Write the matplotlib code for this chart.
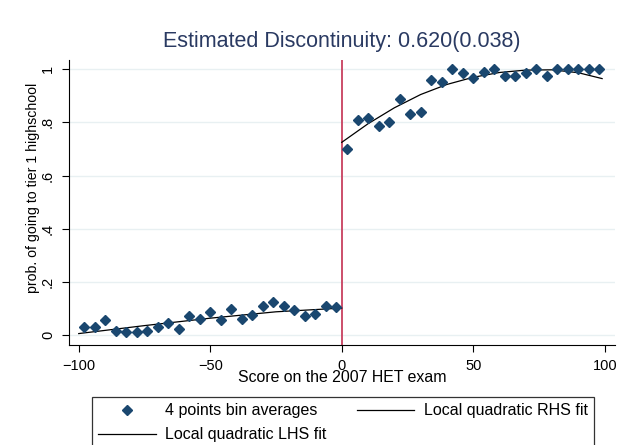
import numpy as np
import matplotlib
matplotlib.use('Agg')
import matplotlib.pyplot as plt

plt.rcParams['font.family'] = ['Liberation Sans', 'DejaVu Sans']

# bin averages (4 points per bin)
x_left = [-98, -94, -90, -86, -82, -78, -74, -70, -66, -62, -58, -54, -50,
          -46, -42, -38, -34, -30, -26, -22, -18, -14, -10, -6, -2]
y_left = [0.031, 0.031, 0.056, 0.016, 0.010, 0.010, 0.015, 0.031, 0.046, 0.021,
          0.071, 0.061, 0.085, 0.056, 0.097, 0.061, 0.075, 0.110, 0.125, 0.107,
          0.095, 0.071, 0.080, 0.110, 0.105]
x_right = [2, 6, 10, 14, 18, 22, 26, 30, 34, 38, 42, 46, 50,
           54, 58, 62, 66, 70, 74, 78, 82, 86, 90, 94, 98]
y_right = [0.700, 0.808, 0.818, 0.788, 0.803, 0.887, 0.832, 0.838, 0.961, 0.952,
           1.001, 0.987, 0.966, 0.991, 1.000, 0.976, 0.976, 0.986, 1.000, 0.976,
           1.000, 1.000, 1.000, 1.000, 1.000]

# local quadratic fits
fit_lx = [-100, -75, -50, -25, 0]
fit_ly = [0.005, 0.035, 0.063, 0.087, 0.101]
fit_rx = [0, 10, 20, 30, 40, 50, 60, 70, 80, 90, 99]
fit_ry = [0.725, 0.795, 0.855, 0.905, 0.943, 0.970, 0.988, 0.997, 0.998, 0.987, 0.965]

yticks = [0, 0.2, 0.4, 0.6, 0.8, 1]
ytick_labels = ['0', '.2', '.4', '.6', '.8', '1']
xticks = [-100, -50, 0, 50, 100]

navy = '#1a476f'

fig = plt.figure(figsize=(6.22, 4.45), dpi=100)
ax = fig.add_axes([69/622, 1 - 345/445, 546/622, 285/445])

for y in yticks:
    ax.axhline(y, color='#e8f0f2', lw=1.0, zorder=0)
ax.axvline(0, color='#c8405f', lw=1.3, zorder=1)

pts, = ax.plot(x_left + x_right, y_left + y_right, 'D', color=navy,
               markersize=5.5, ls='none', zorder=3)
lhs, = ax.plot(fit_lx, fit_ly, color='black', lw=0.9, zorder=2)
rhs, = ax.plot(fit_rx, fit_ry, color='black', lw=0.9, zorder=2)

ax.set_xlim(-103.7, 103.9)
ax.set_ylim(-0.038, 1.035)
ax.set_xticks(xticks)
ax.set_yticks(yticks)
ax.set_yticklabels(ytick_labels, rotation=90, va='center')
ax.tick_params(labelsize=10.5, length=5, direction='out', pad=5)
ax.spines['top'].set_visible(False)
ax.spines['right'].set_visible(False)

fig.text(342/622, 1 - 42/445, 'Estimated Discontinuity: 0.620(0.038)',
         fontsize=15.5, color='#2a3a62', ha='center', va='center')
ax.set_xlabel('Score on the 2007 HET exam', fontsize=11.4, labelpad=-2)
fig.text(33/622, 1 - 187.5/445, 'prob. of going to tier 1 highschool',
         fontsize=10.2, rotation=90, ha='center', va='center')

leg = fig.legend([pts, lhs, rhs],
                 ['4 points bin averages', 'Local quadratic LHS fit',
                  'Local quadratic RHS fit'],
                 loc='upper left', ncol=2, mode='expand', borderaxespad=0,
                 bbox_to_anchor=(92/622, 0, 502/622, 1 - 397/445),
                 fontsize=11.5, fancybox=False, edgecolor='black',
                 handlelength=3.6, handletextpad=0.6, borderpad=0.4,
                 labelspacing=0.55, columnspacing=0.6, numpoints=1)
leg.get_frame().set_linewidth(0.9)

fig.savefig('out.png', dpi=100, facecolor='white')
